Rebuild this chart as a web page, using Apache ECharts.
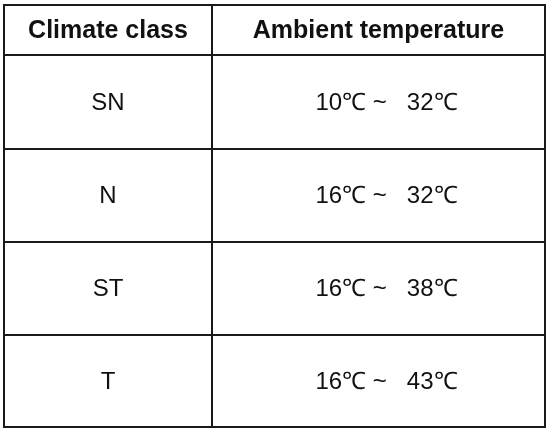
<!DOCTYPE html>
<html>
<head>
<meta charset="utf-8">
<script src="https://cdn.jsdelivr.net/npm/echarts@6/dist/echarts.min.js"></script>
<style>html,body{margin:0;padding:0;background:#fff}#chart{width:550px;height:432px}</style>
</head>
<body>
<div id="chart"></div>
<script>
var headers = ['Climate class', 'Ambient temperature'];
var classes = ['SN', 'N', 'ST', 'T'];
var tempLow = ['10℃', '16℃', '16℃', '16℃'];
var tempHigh = ['32℃', '32℃', '38℃', '43℃'];

// table layout (row / column edges in axis units)
var colEdges = [0, 208, 541];
var rowEdges = [0, 50, 144, 237, 330, 422];

var cells = [];
for (var r = 0; r < rowEdges.length - 1; r++) {
  for (var c = 0; c < 2; c++) {
    var text;
    if (r === 0) text = headers[c];
    else text = c === 0 ? classes[r - 1] : tempLow[r - 1] + ' ~   ' + tempHigh[r - 1];
    cells.push([c, r, text]);
  }
}

var chart = echarts.init(document.getElementById('chart'));
chart.setOption({
  animation: false,
  grid: { left: 4, top: 5, width: 541, height: 422 },
  xAxis: { type: 'value', min: 0, max: 541, show: false },
  yAxis: { type: 'value', min: 0, max: 422, inverse: true, show: false },
  series: [{
    type: 'custom',
    data: cells,
    renderItem: function (params, api) {
      var c = api.value(0), r = api.value(1);
      var p0 = api.coord([colEdges[c], rowEdges[r]]);
      var p1 = api.coord([colEdges[c + 1], rowEdges[r + 1]]);
      var text = cells[params.dataIndex][2];
      return {
        type: 'group',
        children: [{
          type: 'rect',
          shape: { x: p0[0], y: p0[1], width: p1[0] - p0[0], height: p1[1] - p0[1] },
          style: { fill: '#fff', stroke: '#1a1a1a', lineWidth: 2 }
        }, {
          type: 'text',
          x: (p0[0] + p1[0]) / 2 + (r > 0 && c === 1 ? 8 : 0),
          y: (p0[1] + p1[1]) / 2 + 1,
          style: {
            text: text,
            align: 'center',
            verticalAlign: 'middle',
            fontFamily: 'Liberation Sans, Arial, sans-serif',
            fontSize: r === 0 ? 25 : 24,
            fontWeight: r === 0 ? 'bold' : 'normal',
            fill: '#111'
          }
        }]
      };
    }
  }]
});
</script>
</body>
</html>
